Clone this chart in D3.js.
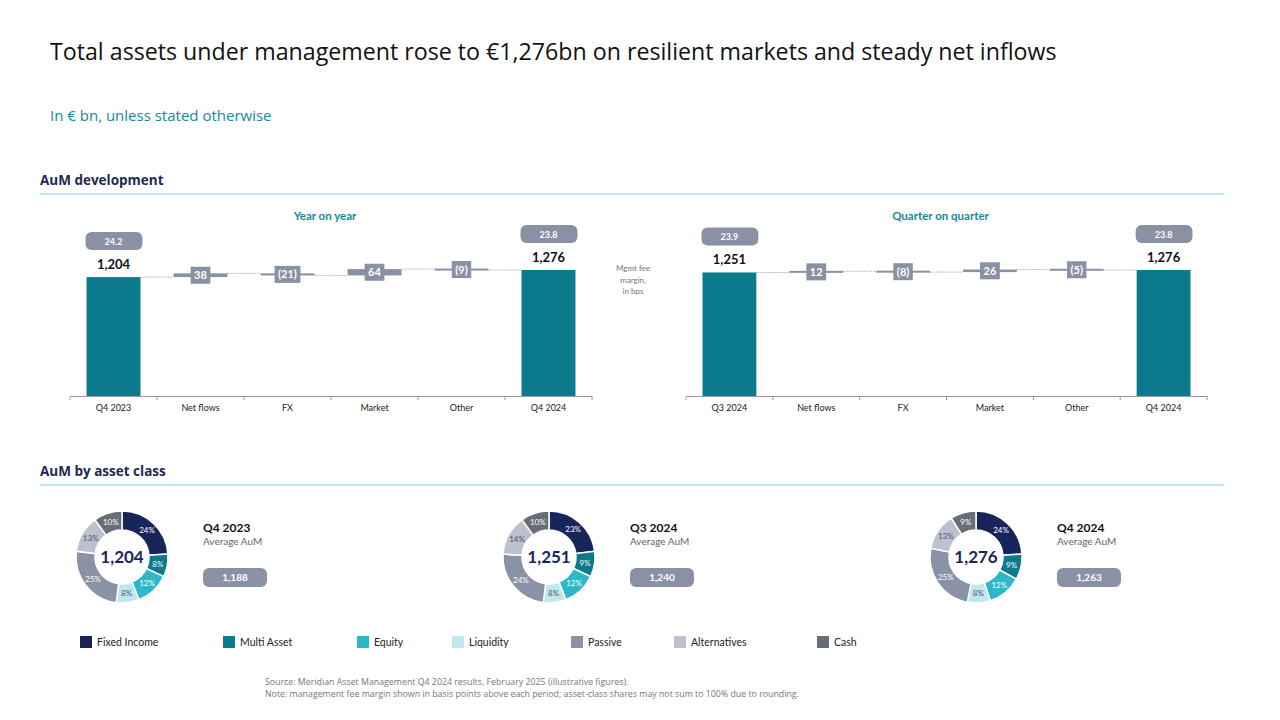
<!DOCTYPE html>
<html lang="en">
  <head>
    <meta charset="UTF-8" />
    <title>AuM development</title>
    <style>
      body { margin: 0; background: #fff; }
      svg text { font-family: Lato, "Open Sans", sans-serif; }
    </style>
  </head>

  <body>

<script src="https://cdn.jsdelivr.net/npm/d3@7"></script>
<script>
    // ---- data ----
    var yoyCats = ["Q4 2023", "Net flows", "FX", "Market", "Other", "Q4 2024"];
    var yoyValues = [1204, 38, -21, 64, -9, 1276];
    var yoyMargins = [24.2, 23.8];

    var qoqCats = ["Q3 2024", "Net flows", "FX", "Market", "Other", "Q4 2024"];
    var qoqValues = [1251, 12, -8, 26, -5, 1276];
    var qoqMargins = [23.9, 23.8];

    var assetClasses = ["Fixed Income", "Multi Asset", "Equity", "Liquidity", "Passive", "Alternatives", "Cash"];
    var periods = ["Q4 2023", "Q3 2024", "Q4 2024"];
    var periodTotals = [1204, 1251, 1276];
    var averageAum = [1188, 1240, 1263];
    var mixQ42023 = [24, 8, 12, 8, 25, 13, 10];
    var mixQ32024 = [23, 9, 12, 8, 24, 14, 10];
    var mixQ42024 = [24, 9, 12, 8, 25, 13, 9];

    // ---- styles ----
    var width = 1280;
    var height = 720;
    var teal = "#0b7a8c";
    var navy = "#1b2656";
    var greyBox = "#8a91a5";
    var classColors = ["#17255a", "#0b7a8c", "#2db7c9", "#bfe7ee", "#8a92a6", "#bcc1cd", "#686e78"];
    var darkLabel = [false, false, false, true, false, true, false];
    var legendX = [80, 223, 357, 452, 571, 674, 817];

    var fmt = d3.format(",");
    function fmtDelta(v) { return v < 0 ? "(" + fmt(-v) + ")" : fmt(v); }

    var svg = d3.select("body")
      .append("svg")
      .attr("width", width)
      .attr("height", height);

    svg.append("rect").attr("width", width).attr("height", height).attr("fill", "#fff");

    // titles
    svg.append("text")
      .attr("x", 50).attr("y", 60)
      .style("font-family", "'Open Sans', sans-serif")
      .style("font-size", "23.2px")
      .attr("fill", "#111")
      .text("Total assets under management rose to €1,276bn on resilient markets and steady net inflows");

    svg.append("text")
      .attr("x", 50).attr("y", 121)
      .style("font-family", "'Open Sans', sans-serif")
      .style("font-size", "15px")
      .attr("fill", "#15899b")
      .text("In € bn, unless stated otherwise");

    function sectionHeader(label, y) {
      svg.append("text")
        .attr("x", 40).attr("y", y)
        .style("font-family", "'Open Sans', sans-serif")
        .style("font-size", "13.5px")
        .style("font-weight", "bold")
        .attr("fill", "#1f2a4f")
        .text(label);
      svg.append("line")
        .attr("x1", 40).attr("x2", 1224)
        .attr("y1", y + 9).attr("y2", y + 9)
        .attr("stroke", "#bfe6ec").attr("stroke-width", 2);
    }
    sectionHeader("AuM development", 185);
    sectionHeader("AuM by asset class", 476);

    // ---- waterfalls ----
    var baseline = 396;
    var yScale = d3.scaleLinear().domain([0, 1276]).range([baseline, 270]);

    function drawWaterfall(cats, values, margins, x0, x1, title) {
      var xScale = d3.scaleBand().domain(cats).range([x0, x1]).paddingInner(0.38).paddingOuter(0.19);
      var bw = xScale.bandwidth();
      var g = svg.append("g");

      g.append("text")
        .attr("x", (x0 + x1) / 2 - 6).attr("y", 220)
        .attr("text-anchor", "middle")
        .style("font-size", "11.5px").style("font-weight", "bold")
        .attr("fill", "#15899b")
        .text(title);

      // running totals
      var steps = [];
      var run = 0;
      values.forEach(function(v, i) {
        if (i === 0 || i === values.length - 1) {
          steps.push({ cat: cats[i], v: v, from: 0, to: v, total: true });
          run = v;
        } else {
          steps.push({ cat: cats[i], v: v, from: run, to: run + v, total: false });
          run = run + v;
        }
      });

      // connectors
      for (var i = 0; i < steps.length - 1; i++) {
        var lvl = yScale(steps[i].to);
        g.append("line")
          .attr("x1", xScale(steps[i].cat) + bw)
          .attr("x2", xScale(steps[i + 1].cat))
          .attr("y1", lvl).attr("y2", lvl)
          .attr("stroke", "#bbbbbb").attr("stroke-width", 1)
          .attr("stroke-dasharray", "2,1");
      }

      // totals
      var totals = steps.filter(function(d) { return d.total; });
      g.selectAll("rect.total")
        .data(totals).enter().append("rect")
        .attr("class", "total")
        .attr("x", function(d) { return xScale(d.cat); })
        .attr("y", function(d) { return yScale(d.to); })
        .attr("width", bw)
        .attr("height", function(d) { return baseline - yScale(d.to); })
        .attr("fill", teal);

      g.selectAll("text.total")
        .data(totals).enter().append("text")
        .attr("class", "total")
        .attr("x", function(d) { return xScale(d.cat) + bw / 2; })
        .attr("y", function(d) { return yScale(d.to) - 8; })
        .attr("text-anchor", "middle")
        .style("font-size", "13px").style("font-weight", "bold")
        .attr("fill", "#111")
        .text(function(d) { return fmt(d.v); });

      // fee margin pills
      totals.forEach(function(d, k) {
        var cy = yScale(d.to) - 36;
        g.append("rect")
          .attr("x", xScale(d.cat) - 1).attr("y", cy - 9)
          .attr("width", bw + 3).attr("height", 18)
          .attr("rx", 6)
          .attr("fill", greyBox);
        g.append("text")
          .attr("x", xScale(d.cat) + bw / 2).attr("y", cy + 3.5)
          .attr("text-anchor", "middle")
          .style("font-size", "9px").style("font-weight", "bold")
          .attr("fill", "#fff")
          .text(margins[k].toFixed(1));
      });

      // deltas
      var deltas = steps.filter(function(d) { return !d.total; });
      deltas.forEach(function(d) {
        var yA = yScale(Math.max(d.from, d.to));
        var yB = yScale(Math.min(d.from, d.to));
        var h = Math.max(yB - yA, 2);
        var mid = (yA + yB) / 2;
        g.append("rect")
          .attr("x", xScale(d.cat)).attr("y", mid - h / 2)
          .attr("width", bw).attr("height", h)
          .attr("fill", greyBox);
        var box = g.append("rect").attr("fill", greyBox);
        var t = g.append("text")
          .attr("x", xScale(d.cat) + bw / 2).attr("y", mid + 4)
          .attr("text-anchor", "middle")
          .style("font-size", "11px").style("font-weight", "bold")
          .attr("fill", "#fff")
          .text(fmtDelta(d.v));
        var tw = t.node().getComputedTextLength() + 7;
        box.attr("x", xScale(d.cat) + bw / 2 - tw / 2).attr("y", mid - 8.5)
          .attr("width", tw).attr("height", 17);
      });

      // axis
      var xAxis = d3.axisBottom(xScale).tickSize(0).tickPadding(9);
      var ax = g.append("g")
        .attr("class", "x-axis")
        .attr("transform", "translate(0," + baseline + ")")
        .call(xAxis);
      ax.select(".domain").attr("stroke", "#999");
      ax.selectAll("text").style("font-size", "9px").attr("fill", "#222")
        .style("font-family", "Lato, sans-serif");
      var edges = d3.range(cats.length + 1).map(function(i) { return x0 + i * (x1 - x0) / cats.length; });
      ax.selectAll("line.sep")
        .data(edges).enter().append("line")
        .attr("class", "sep")
        .attr("x1", function(d) { return d; }).attr("x2", function(d) { return d; })
        .attr("y1", 0).attr("y2", 4)
        .attr("stroke", "#999");
    }

    drawWaterfall(yoyCats, yoyValues, yoyMargins, 70, 592, "Year on year");
    drawWaterfall(qoqCats, qoqValues, qoqMargins, 686, 1207, "Quarter on quarter");

    // margin note between the charts
    ["Mgmt fee", "margin,", "in bps"].forEach(function(s, i) {
      svg.append("text")
        .attr("x", 633).attr("y", 271 + i * 11.5)
        .attr("text-anchor", "middle")
        .style("font-size", "8px")
        .attr("fill", "#777")
        .text(s);
    });

    // ---- donuts ----
    var mixes = [mixQ42023, mixQ32024, mixQ42024];
    var donutX = [122, 549, 976];
    var donutY = 557;
    var pie = d3.pie().sort(null);
    var arc = d3.arc().innerRadius(27).outerRadius(46);
    var labelArc = d3.arc().innerRadius(36.5).outerRadius(36.5);

    mixes.forEach(function(mix, p) {
      var g = svg.append("g").attr("transform", "translate(" + donutX[p] + "," + donutY + ")");
      var arcs = pie(mix);
      g.selectAll("path")
        .data(arcs).enter().append("path")
        .attr("d", arc)
        .attr("fill", function(d, i) { return classColors[i]; })
        .attr("stroke", "#fff").attr("stroke-width", 1.5);
      g.selectAll("text.pct")
        .data(arcs).enter().append("text")
        .attr("class", "pct")
        .attr("transform", function(d) { return "translate(" + labelArc.centroid(d) + ")"; })
        .attr("dy", "0.35em")
        .attr("text-anchor", "middle")
        .style("font-size", "8px")
        .attr("fill", function(d, i) { return darkLabel[i] ? "#4b5575" : "#fff"; })
        .text(function(d) { return d.data + "%"; });
      g.append("text")
        .attr("y", 6)
        .attr("text-anchor", "middle")
        .style("font-size", "17px").style("font-weight", "bold")
        .attr("fill", navy)
        .text(fmt(periodTotals[p]));

      var tx = donutX[p] + 81;
      svg.append("text")
        .attr("x", tx).attr("y", 532)
        .style("font-size", "12px").style("font-weight", "bold")
        .attr("fill", "#111")
        .text(periods[p]);
      svg.append("text")
        .attr("x", tx).attr("y", 545)
        .style("font-size", "10px")
        .attr("fill", "#666")
        .text("Average AuM");
      svg.append("rect")
        .attr("x", tx).attr("y", 568)
        .attr("width", 64).attr("height", 19)
        .attr("rx", 6)
        .attr("fill", greyBox);
      svg.append("text")
        .attr("x", tx + 32).attr("y", 581)
        .attr("text-anchor", "middle")
        .style("font-size", "10px").style("font-weight", "bold")
        .attr("fill", "#fff")
        .text(fmt(averageAum[p]));
    });

    // legend
    var legend = svg.selectAll("g.legend")
      .data(assetClasses).enter().append("g")
      .attr("class", "legend")
      .attr("transform", function(d, i) { return "translate(" + legendX[i] + ",636)"; });
    legend.append("rect")
      .attr("width", 12).attr("height", 12)
      .attr("fill", function(d, i) { return classColors[i]; });
    legend.append("text")
      .attr("x", 17).attr("y", 10)
      .style("font-size", "10.5px")
      .attr("fill", "#222")
      .text(function(d) { return d; });

    // footer
    svg.append("text")
      .attr("x", 265).attr("y", 685)
      .style("font-family", "'Open Sans', sans-serif")
      .style("font-size", "8.8px").attr("fill", "#777")
      .text("Source: Meridian Asset Management Q4 2024 results, February 2025 (illustrative figures).");
    svg.append("text")
      .attr("x", 265).attr("y", 697)
      .style("font-family", "'Open Sans', sans-serif")
      .style("font-size", "8.8px").attr("fill", "#777")
      .text("Note: management fee margin shown in basis points above each period; asset-class shares may not sum to 100% due to rounding.");
</script>
  </body>
</html>
